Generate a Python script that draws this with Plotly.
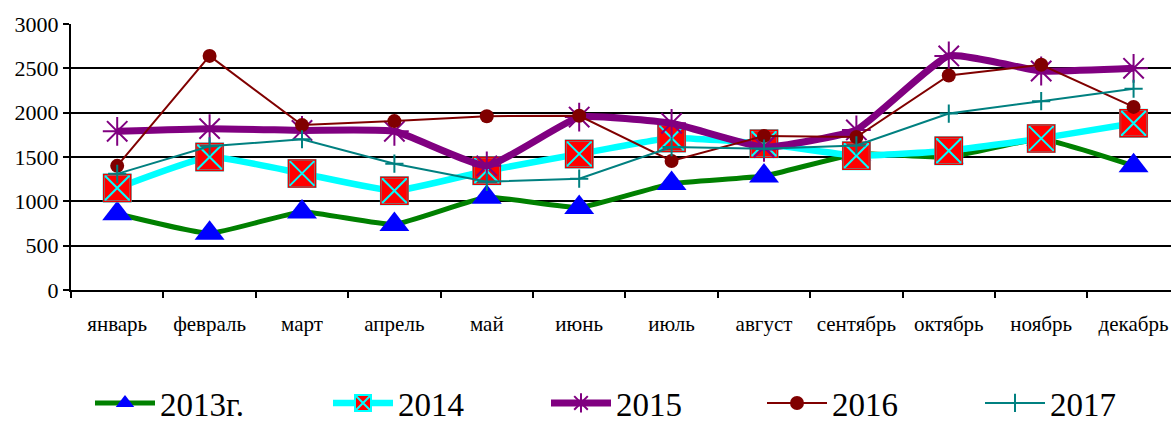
import plotly.graph_objects as go

months = ["январь", "февраль", "март", "апрель", "май", "июнь",
          "июль", "август", "сентябрь", "октябрь", "ноябрь", "декабрь"]
names = ["2013г.", "2014", "2015", "2016", "2017"]
v2013 = [860, 640, 880, 740, 1045, 930, 1200, 1285, 1535, 1500, 1700, 1400]
v2014 = [1150, 1500, 1315, 1120, 1345, 1535, 1715, 1650, 1515, 1570, 1710, 1880]
v2015 = [1790, 1820, 1800, 1790, 1400, 1950, 1880, 1610, 1805, 2640, 2470, 2500]
v2016 = [1400, 2640, 1860, 1905, 1960, 1965, 1455, 1738, 1726, 2420, 2540, 2065]
v2017 = [1310, 1620, 1700, 1425, 1220, 1255, 1612, 1594, 1630, 1990, 2130, 2270]
y_ticks = [0, 500, 1000, 1500, 2000, 2500, 3000]

FONT = "Liberation Serif, Times New Roman, Times, serif"
W, H = 1171, 423

fig = go.Figure()
fig.add_trace(go.Scatter(
    x=months, y=v2013, name=names[0], mode="lines+markers", legend="legend",
    line=dict(color="#008000", width=5, shape="spline", smoothing=0.4),
    marker=dict(symbol="triangle-up", size=26, color="#0000FF",
                line=dict(width=0))))
fig.add_trace(go.Scatter(
    x=months, y=v2014, name=names[1], mode="lines+markers", legend="legend2",
    line=dict(color="#00FFFF", width=6.5, shape="spline", smoothing=0.4),
    marker=dict(symbol="square-x", size=27, color="#FF0000",
                line=dict(width=2, color="#00FFFF"))))
fig.add_trace(go.Scatter(
    x=months, y=v2014, name=names[1], mode="markers", showlegend=False,
    marker=dict(symbol="square-open", size=27, color="#EE0000",
                line=dict(width=1.5, color="#EE0000")),
    hoverinfo="skip"))
fig.add_trace(go.Scatter(
    x=months, y=v2015, name=names[2], mode="lines+markers", legend="legend3",
    line=dict(color="#800080", width=7, shape="spline", smoothing=0.4),
    marker=dict(symbol="asterisk-open", size=24,
                line=dict(width=2, color="#800080"))))
fig.add_trace(go.Scatter(
    x=months, y=v2016, name=names[3], mode="lines+markers", legend="legend4",
    line=dict(color="#800000", width=2),
    marker=dict(symbol="circle", size=14, color="#800000")))
fig.add_trace(go.Scatter(
    x=months, y=v2017, name=names[4], mode="lines+markers", legend="legend5",
    line=dict(color="#008080", width=2),
    marker=dict(symbol="cross-thin-open", size=13,
                line=dict(width=2, color="#008080"))))


def leg(xpx):
    return dict(orientation="h", xref="container", yref="container",
                x=xpx / W, y=1 - 403 / H, xanchor="left", yanchor="middle",
                font=dict(family=FONT, size=33, color="black"),
                itemwidth=60, bgcolor="rgba(0,0,0,0)")


fig.update_layout(
    width=W, height=H,
    margin=dict(l=71, r=0, t=24, b=133, autoexpand=False),
    paper_bgcolor="white", plot_bgcolor="white",
    font=dict(family=FONT, color="black"),
    showlegend=True,
    legend=leg(90), legend2=leg(328), legend3=leg(546),
    legend4=leg(762), legend5=leg(980),
)
fig.update_xaxes(
    type="category", range=[-0.5, 11.405], tickson="boundaries",
    ticks="outside", ticklen=6, tickwidth=2, tickcolor="black",
    showline=True, linecolor="black", linewidth=2,
    showgrid=False, zeroline=False, automargin=False,
    tickfont=dict(family=FONT, size=21, color="black"),
    ticklabelstandoff=14,
)
fig.update_yaxes(
    range=[0, 3000], tickvals=y_ticks, ticktext=[str(v) for v in y_ticks],
    ticks="outside", ticklen=6, tickwidth=2, tickcolor="black",
    showline=True, linecolor="black", linewidth=2,
    showgrid=True, gridcolor="black", gridwidth=1.5,
    zeroline=False, automargin=False,
    tickfont=dict(family=FONT, size=22, color="black"),
)

fig.write_html(
    "out.html",
    config={"displayModeBar": False},
    post_script="document.body.style.margin='0';document.body.style.overflow='hidden';",
)
